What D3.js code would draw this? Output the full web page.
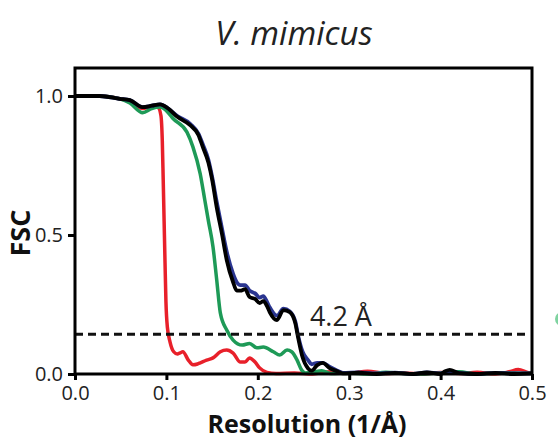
<!DOCTYPE html>
<html>
<head>
<meta charset="utf-8">
<script src="https://cdn.jsdelivr.net/npm/d3@7"></script>
<style>
  html, body { margin: 0; padding: 0; background: #fff; }
  svg { display: block; }
  text { font-family: "Open Sans", "Noto Sans", sans-serif; }
</style>
</head>
<body>
<svg id="chart" width="558" height="439"></svg>
<script>
// ---------- data ----------
const title = "V. mimicus";
const xLabel = "Resolution (1/Å)";
const yLabel = "FSC";
const xTicks = [0.0, 0.1, 0.2, 0.3, 0.4, 0.5];
const yTicks = [0.0, 0.5, 1.0];
const threshold = 0.143;
const thresholdLabel = "4.2 Å";

const redRes = [0, 0.027, 0.049, 0.060, 0.074, 0.084, 0.091, 0.094, 0.0955, 0.0965, 0.0975, 0.0985, 0.0995, 0.101, 0.104, 0.108, 0.112, 0.115, 0.118, 0.124, 0.129, 0.134, 0.137, 0.144, 0.151, 0.159, 0.166, 0.173, 0.181, 0.186, 0.191, 0.197, 0.202, 0.210, 0.22, 0.24, 0.26, 0.28, 0.30, 0.32, 0.34, 0.36, 0.38, 0.40, 0.42, 0.44, 0.46, 0.475, 0.485, 0.495, 0.5];
const redFsc = [1.0, 1.0, 0.99, 0.98, 0.955, 0.962, 0.958, 0.93, 0.84, 0.70, 0.55, 0.40, 0.26, 0.17, 0.115, 0.08, 0.072, 0.076, 0.08, 0.05, 0.033, 0.036, 0.04, 0.05, 0.058, 0.08, 0.086, 0.075, 0.043, 0.043, 0.058, 0.043, 0.022, 0.006, 0.002, 0.004, 0.0, 0.008, 0.003, 0.01, 0.002, 0.004, 0.0, 0.005, 0.002, 0.006, 0.0, 0.008, 0.016, 0.006, 0.002];

const greenRes = [0, 0.027, 0.049, 0.060, 0.074, 0.084, 0.093, 0.102, 0.107, 0.1225, 0.129, 0.137, 0.142, 0.146, 0.151, 0.155, 0.159, 0.166, 0.173, 0.183, 0.191, 0.199, 0.206, 0.217, 0.224, 0.232, 0.237, 0.243, 0.248, 0.252, 0.26, 0.27, 0.28, 0.30, 0.32, 0.34, 0.36, 0.38, 0.40, 0.42, 0.44, 0.46, 0.48, 0.5];
const greenFsc = [1.0, 1.0, 0.99, 0.975, 0.94, 0.955, 0.96, 0.94, 0.92, 0.87, 0.817, 0.72, 0.626, 0.55, 0.457, 0.34, 0.22, 0.158, 0.122, 0.104, 0.11, 0.094, 0.097, 0.08, 0.068, 0.086, 0.08, 0.05, 0.014, 0.004, 0.006, 0.012, 0.002, 0.004, 0.0, 0.006, 0.002, 0.0, 0.004, 0.008, 0.0, 0.003, 0.004, 0.003];

const blueRes = [0, 0.027, 0.049, 0.060, 0.074, 0.084, 0.093, 0.102, 0.112, 0.126, 0.135, 0.140, 0.146, 0.150, 0.155, 0.161, 0.166, 0.173, 0.177, 0.181, 0.186, 0.191, 0.197, 0.202, 0.206, 0.210, 0.213, 0.221, 0.228, 0.235, 0.241, 0.244, 0.249, 0.255, 0.259, 0.265, 0.271, 0.279, 0.287, 0.293, 0.31, 0.33, 0.35, 0.37, 0.385, 0.40, 0.41, 0.42, 0.44, 0.46, 0.48, 0.5];
const blueFsc = [1.0, 1.0, 0.99, 0.985, 0.96, 0.965, 0.97, 0.955, 0.928, 0.9, 0.865, 0.825, 0.77, 0.71, 0.62, 0.52, 0.44, 0.36, 0.33, 0.32, 0.32, 0.30, 0.29, 0.275, 0.28, 0.26, 0.24, 0.21, 0.235, 0.225, 0.19, 0.14, 0.08, 0.05, 0.035, 0.04, 0.04, 0.025, 0.012, 0.004, 0.006, 0.002, 0.005, 0.0, 0.006, 0.002, 0.01, 0.004, 0.0, 0.004, 0.002, 0.002];

const blackRes = [0, 0.027, 0.049, 0.060, 0.074, 0.084, 0.093, 0.102, 0.112, 0.126, 0.135, 0.140, 0.146, 0.150, 0.155, 0.161, 0.166, 0.173, 0.177, 0.181, 0.186, 0.191, 0.197, 0.202, 0.206, 0.210, 0.213, 0.221, 0.228, 0.235, 0.241, 0.244, 0.249, 0.255, 0.259, 0.265, 0.271, 0.279, 0.287, 0.293, 0.31, 0.33, 0.35, 0.37, 0.385, 0.40, 0.405, 0.41, 0.42, 0.44, 0.46, 0.48, 0.5];
const blackFsc = [1.0, 1.0, 0.99, 0.985, 0.96, 0.965, 0.97, 0.955, 0.925, 0.895, 0.86, 0.815, 0.76, 0.70, 0.60, 0.50, 0.41, 0.33, 0.30, 0.30, 0.305, 0.277, 0.27, 0.255, 0.262, 0.245, 0.223, 0.194, 0.23, 0.223, 0.183, 0.133, 0.06, 0.02, 0.012, 0.032, 0.04, 0.02, 0.01, 0.002, 0.005, 0.0, 0.004, 0.0, 0.006, 0.0, 0.01, 0.015, 0.003, 0.0, 0.004, 0.0, 0.002];

const seriesNames = ["red", "green", "blue", "black"];
const seriesColors = ["#e8202a", "#1e9a57", "#2a3590", "#000000"];

// ---------- layout ----------
const svg = d3.select("#chart");
const plotLeft = 75, plotRight = 532, plotTop = 68, plotBottom = 374;
const x = d3.scaleLinear().domain([0, 0.5]).range([plotLeft, plotRight]);
const y = d3.scaleLinear().domain([0, 1]).range([plotBottom, 96]);

// title
svg.append("text")
  .attr("x", 294).attr("y", 45)
  .attr("text-anchor", "middle")
  .attr("font-size", 33).attr("font-style", "italic")
  .attr("fill", "#222")
  .text(title);

// curves
const line = d3.line().x(d => x(d[0])).y(d => y(d[1])).curve(d3.curveMonotoneX);
const allSeries = [
  d3.zip(redRes, redFsc),
  d3.zip(greenRes, greenFsc),
  d3.zip(blueRes, blueFsc),
  d3.zip(blackRes, blackFsc)
];
const widths = [3.5, 3.5, 3.8, 3.8];
allSeries.forEach((pts, i) => {
  svg.append("path")
    .datum(pts)
    .attr("fill", "none")
    .attr("stroke", seriesColors[i])
    .attr("stroke-width", widths[i])
    .attr("stroke-linejoin", "round")
    .attr("d", line);
});

// threshold line
svg.append("line")
  .attr("x1", x(0)).attr("x2", x(0.495))
  .attr("y1", y(threshold)).attr("y2", y(threshold))
  .attr("stroke", "#111").attr("stroke-width", 3)
  .attr("stroke-dasharray", "8,5");
svg.append("text")
  .attr("x", x(0.257)).attr("y", y(threshold) - 8)
  .attr("font-size", 27).attr("fill", "#222")
  .text(thresholdLabel);

// frame
svg.append("rect")
  .attr("x", plotLeft).attr("y", plotTop)
  .attr("width", plotRight - plotLeft).attr("height", plotBottom - plotTop)
  .attr("fill", "none").attr("stroke", "#000").attr("stroke-width", 3);

// axes
const xAxis = svg.append("g").attr("transform", `translate(0,${plotBottom})`)
  .call(d3.axisBottom(x).tickValues(xTicks).tickFormat(d3.format(".1f")).tickSize(6).tickSizeOuter(0).tickPadding(6));
const yAxis = svg.append("g").attr("transform", `translate(${plotLeft},0)`)
  .call(d3.axisLeft(y).tickValues(yTicks).tickFormat(d3.format(".1f")).tickSize(7).tickSizeOuter(0).tickPadding(5));
[xAxis, yAxis].forEach(g => {
  g.select(".domain").remove();
  g.selectAll(".tick line").attr("stroke", "#000").attr("stroke-width", 3);
  g.selectAll(".tick text").attr("font-size", 20).attr("fill", "#222")
    .attr("font-family", '"Open Sans", "Noto Sans", sans-serif');
});

// axis labels
svg.append("text")
  .attr("x", 307).attr("y", 433)
  .attr("text-anchor", "middle")
  .attr("font-size", 25).attr("font-weight", "bold").attr("fill", "#111")
  .text(xLabel);
svg.append("text")
  .attr("transform", "translate(30,233) rotate(-90)")
  .attr("text-anchor", "middle")
  .attr("font-size", 27).attr("font-weight", "bold").attr("fill", "#111")
  .text(yLabel);

// partial marker at right edge
svg.append("circle")
  .attr("cx", 562).attr("cy", 319).attr("r", 7)
  .attr("fill", "#7fd3a0");
</script>
</body>
</html>
